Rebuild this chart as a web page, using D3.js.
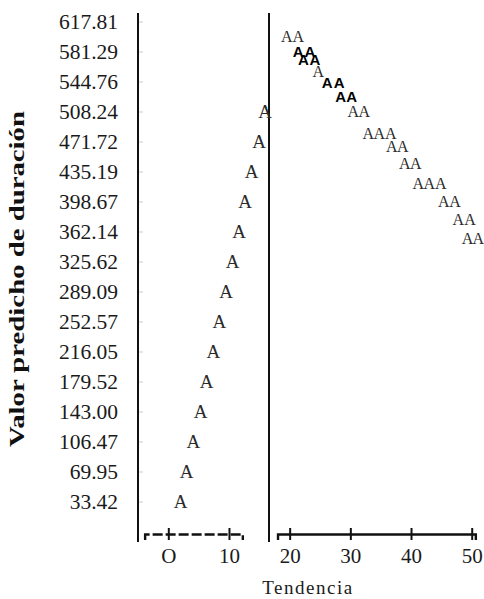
<!DOCTYPE html>
<html>
<head>
<meta charset="utf-8">
<script src="https://cdn.jsdelivr.net/npm/d3@7"></script>
<style>
  html, body { margin: 0; padding: 0; background: #fff; }
  svg { display: block; }
</style>
</head>
<body>
<svg id="chart" width="484" height="599"></svg>
<script>
// ---- data ----
const yTickValues = [33.42, 69.95, 106.47, 143.00, 179.52, 216.05, 252.57, 289.09, 325.62,
                     362.14, 398.67, 435.19, 471.72, 508.24, 544.76, 581.29, 617.81];
const xTickValues = [0, 10, 20, 30, 40, 50];
const xTickLabels = ["O", "10", "20", "30", "40", "50"];

// left segment (tendencia 2..16)
const leftTrend = [2.04, 3.03, 4.12, 5.34, 6.33, 7.42, 8.40, 9.51, 10.61, 11.65, 12.64, 13.74, 14.95, 15.94];
const leftPred  = [33.42, 69.95, 106.47, 143.00, 179.52, 216.05, 252.57, 289.09, 325.62,
                   362.14, 398.67, 435.19, 471.72, 508.24];

// right segment (tendencia 19..51)
const rightTrend = [19.51, 21.42, 21.42, 23.35, 22.25, 24.18, 24.72, 26.20, 28.18, 28.41, 30.22,
                    30.49, 32.30, 32.96, 34.77, 36.65, 36.82, 38.63, 38.96, 40.77,
                    41.20, 43.01, 44.89, 45.39, 47.25, 47.79, 49.72, 49.30, 51.10];
const rightPred  = [599.9, 599.9, 581.6, 581.6, 571.5, 571.5, 557.3, 543.2, 543.2, 526.1, 526.1,
                    508.6, 508.6, 482.3, 482.3, 482.3, 466.0, 466.0, 445.8, 445.8,
                    421.4, 421.4, 421.4, 399.0, 399.0, 376.8, 376.8, 354.5, 354.5];

// marker style groups (indices into right segment drawn heavier)
const heavyMarkers = [2, 3, 4, 5, 7, 8, 9, 10];

const xTitle = "Tendencia";
const yTitle = "Valor predicho de duración";
const markerChar = "A";

// ---- drawing ----
const svg = d3.select("#chart");
const serif = "'Liberation Serif', 'Times New Roman', serif";

const x = d3.scaleLinear().domain([0, 50]).range([168.3, 471.7]);
const y = d3.scaleLinear().domain([33.42, 617.81]).range([502, 22]);

// Y axis labels
const yAxisG = svg.append("g").attr("transform", "translate(138,0)");
yAxisG.call(d3.axisLeft(y).tickValues(yTickValues).tickSize(0).tickPadding(20)
    .tickFormat(d => d3.format(".2f")(d)));
yAxisG.select(".domain").remove();
yAxisG.selectAll("text").attr("font-family", serif).attr("font-size", 21.5).attr("fill", "#1a1a1a");

// faint row ticks
yAxisG.selectAll(".faint").data(yTickValues).join("line")
  .attr("x1", 0).attr("x2", 5).attr("y1", d => y(d)).attr("y2", d => y(d))
  .attr("stroke", "#ccc").attr("stroke-width", 1);

// vertical lines (left axis and break)
svg.append("line").attr("x1", 138).attr("x2", 138).attr("y1", 13).attr("y2", 542)
  .attr("stroke", "#111").attr("stroke-width", 2);
svg.append("line").attr("x1", 269).attr("x2", 269).attr("y1", 13).attr("y2", 542)
  .attr("stroke", "#111").attr("stroke-width", 2);

// X axes (two segments)
function drawXAxis(d0, d1, ticks, dash) {
  const s = x.copy().domain([d0, d1]).range([x(d0), x(d1)]);
  const g = svg.append("g").attr("transform", "translate(0,534)");
  g.call(d3.axisBottom(s).tickValues(ticks).tickSizeOuter(0).tickSize(6).tickPadding(8)
      .tickFormat(d => xTickLabels[xTickValues.indexOf(d)]));
  g.select(".domain").attr("stroke", "#111").attr("stroke-width", 2.4)
    .attr("stroke-dasharray", dash);
  g.selectAll(".tick line").attr("y1", -6).attr("y2", 6).attr("stroke", "#111").attr("stroke-width", 2);
  g.selectAll(".tick text").attr("font-family", serif).attr("font-size", 21).attr("fill", "#1a1a1a");
  return g;
}
drawXAxis(-3.9, 12.2, [0, 10], "10,3");
drawXAxis(18, 50.6, [20, 30, 40, 50], null);

// axis titles
svg.append("text").attr("x", 308).attr("y", 594).attr("text-anchor", "middle")
  .attr("font-family", serif).attr("font-size", 19).attr("letter-spacing", 1.5)
  .attr("fill", "#1a1a1a").text(xTitle);

svg.append("text").attr("transform", "translate(24,279) rotate(-90)")
  .attr("text-anchor", "middle").attr("font-family", serif).attr("font-size", 22)
  .attr("textLength", 336).attr("lengthAdjust", "spacingAndGlyphs")
  .attr("font-weight", "bold").attr("fill", "#111").text(yTitle);

// markers
const pts = leftTrend.map((t, i) => ({ t, v: leftPred[i], heavy: false, big: true }))
  .concat(rightTrend.map((t, i) => ({ t, v: rightPred[i], heavy: heavyMarkers.includes(i), big: false })));

svg.append("g").selectAll("text").data(pts).join("text")
  .attr("x", d => x(d.t)).attr("y", d => y(d.v)).attr("dy", "0.34em")
  .attr("text-anchor", "middle")
  .attr("font-family", d => d.heavy ? "'Liberation Sans', Arial, sans-serif" : serif)
  .attr("font-weight", d => d.heavy ? "bold" : "normal")
  .attr("font-size", d => d.heavy ? 15 : (d.big ? 19 : 16))
  .attr("fill", d => d.heavy ? "#000" : "#2a2a2a")
  .text(markerChar);
</script>
</body>
</html>
